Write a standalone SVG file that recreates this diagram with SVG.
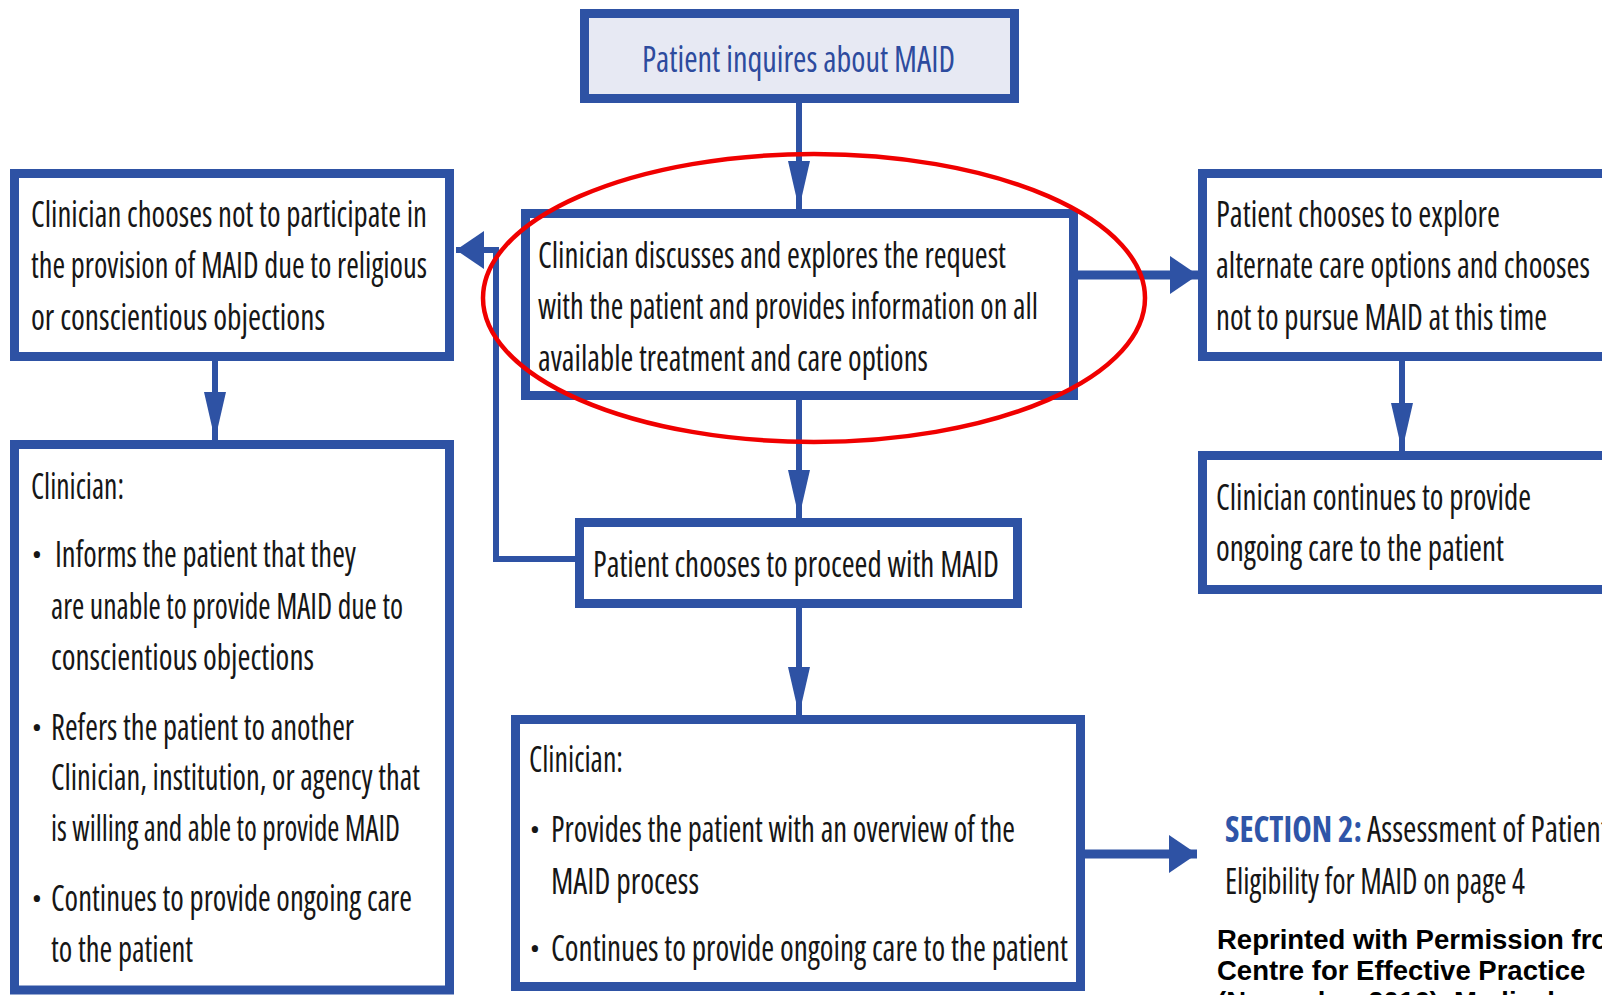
<svg xmlns="http://www.w3.org/2000/svg" width="1602" height="995" viewBox="0 0 1602 995">
<style>
.box{fill:#ffffff;stroke:#2e52a4;stroke-width:9}
.topbox{fill:#e7e9f3;stroke:#2e52a4;stroke-width:9}
.t{font-family:"Open Sans","Liberation Sans",sans-serif;font-size:36px;font-stretch:75%;font-weight:500;fill:#161616}
.tb{font-family:"Open Sans","Liberation Sans",sans-serif;font-size:37px;font-stretch:75%;font-weight:500;fill:#2d4b9e}
.sec{font-family:"Open Sans","Liberation Sans",sans-serif;font-size:36px;font-stretch:75%;font-weight:bold;fill:#2f55a8}
.bul{font-family:"Open Sans","Liberation Sans",sans-serif;font-size:30px;fill:#161616;text-anchor:middle}
.ref{font-family:"Liberation Sans",Arial,sans-serif;font-size:27.5px;font-weight:bold;fill:#000}
.cv{fill:none;stroke:#2e52a4;stroke-width:6}
.ch{fill:none;stroke:#2e52a4;stroke-width:9}
</style>
<defs>
<marker id="tall" markerUnits="userSpaceOnUse" markerWidth="50" markerHeight="24" viewBox="0 0 50 24" refX="48" refY="12" orient="auto">
<path d="M0,1 L48,12 L0,23 z" fill="#2e52a4"/>
</marker>
<marker id="short" markerUnits="userSpaceOnUse" markerWidth="30" markerHeight="40" viewBox="0 0 30 40" refX="28" refY="20" orient="auto">
<path d="M0,1 L28,20 L0,39 z" fill="#2e52a4"/>
</marker>
</defs>
<rect width="1602" height="995" fill="#ffffff"/>

<g id="connectors">
<line class="cv" x1="799" y1="103" x2="799" y2="209" marker-end="url(#tall)"/>
<line class="cv" x1="799" y1="400" x2="799" y2="518" marker-end="url(#tall)"/>
<line class="cv" x1="799" y1="608" x2="799" y2="715" marker-end="url(#tall)"/>
<line class="cv" x1="215" y1="361" x2="215" y2="440" marker-end="url(#tall)"/>
<line class="cv" x1="1402" y1="361" x2="1402" y2="451" marker-end="url(#tall)"/>
<line class="ch" x1="1078" y1="275" x2="1198" y2="275" marker-end="url(#short)"/>
<line class="ch" x1="1085" y1="854" x2="1197" y2="854" marker-end="url(#short)"/>
<path class="cv" d="M575,559 H496 V250 H456" stroke-width="7" marker-end="url(#short)"/>
</g>

<g id="node-inquire">
<rect class="topbox" x="584.5" y="13.5" width="430" height="85"/>
<text class="tb" x="642" y="72" textLength="313" lengthAdjust="spacingAndGlyphs">Patient inquires about MAID</text>
</g>

<g id="node-discuss">
<rect class="box" x="525.5" y="213.5" width="548" height="182"/>
<text class="t" x="538" y="268" textLength="468" lengthAdjust="spacingAndGlyphs">Clinician discusses and explores the request</text>
<text class="t" x="538" y="319" textLength="500" lengthAdjust="spacingAndGlyphs">with the patient and provides information on all</text>
<text class="t" x="538" y="371" textLength="390" lengthAdjust="spacingAndGlyphs">available treatment and care options</text>
</g>

<g id="node-objection">
<rect class="box" x="14.5" y="173.5" width="435" height="183"/>
<text class="t" x="31" y="227" textLength="396" lengthAdjust="spacingAndGlyphs">Clinician chooses not to participate in</text>
<text class="t" x="31" y="278" textLength="396" lengthAdjust="spacingAndGlyphs">the provision of MAID due to religious</text>
<text class="t" x="31" y="330" textLength="294" lengthAdjust="spacingAndGlyphs">or conscientious objections</text>
</g>

<g id="node-refer">
<rect class="box" x="14.5" y="444.5" width="435" height="545.5"/>
<text class="t" x="31" y="499" textLength="93" lengthAdjust="spacingAndGlyphs">Clinician:</text>
<text class="bul" x="37" y="565">•</text>
<text class="t" x="55" y="567" textLength="301" lengthAdjust="spacingAndGlyphs">Informs the patient that they</text>
<text class="t" x="51" y="619" textLength="352" lengthAdjust="spacingAndGlyphs">are unable to provide MAID due to</text>
<text class="t" x="51" y="670" textLength="263" lengthAdjust="spacingAndGlyphs">conscientious objections</text>
<text class="bul" x="37" y="738">•</text>
<text class="t" x="51" y="740" textLength="303" lengthAdjust="spacingAndGlyphs">Refers the patient to another</text>
<text class="t" x="51" y="790" textLength="369" lengthAdjust="spacingAndGlyphs">Clinician, institution, or agency that</text>
<text class="t" x="51" y="841" textLength="349" lengthAdjust="spacingAndGlyphs">is willing and able to provide MAID</text>
<text class="bul" x="37" y="909">•</text>
<text class="t" x="51" y="911" textLength="361" lengthAdjust="spacingAndGlyphs">Continues to provide ongoing care</text>
<text class="t" x="51" y="962" textLength="142" lengthAdjust="spacingAndGlyphs">to the patient</text>
</g>

<g id="node-explore">
<rect class="box" x="1202.5" y="173.5" width="450" height="183"/>
<text class="t" x="1216" y="227" textLength="284" lengthAdjust="spacingAndGlyphs">Patient chooses to explore</text>
<text class="t" x="1216" y="278" textLength="374" lengthAdjust="spacingAndGlyphs">alternate care options and chooses</text>
<text class="t" x="1216" y="330" textLength="331" lengthAdjust="spacingAndGlyphs">not to pursue MAID at this time</text>
</g>

<g id="node-ongoing">
<rect class="box" x="1202.5" y="455.5" width="450" height="134"/>
<text class="t" x="1216" y="510" textLength="315" lengthAdjust="spacingAndGlyphs">Clinician continues to provide</text>
<text class="t" x="1216" y="561" textLength="288" lengthAdjust="spacingAndGlyphs">ongoing care to the patient</text>
</g>

<g id="node-proceed">
<rect class="box" x="579.5" y="522.5" width="438" height="81"/>
<text class="t" x="593" y="577" textLength="406" lengthAdjust="spacingAndGlyphs">Patient chooses to proceed with MAID</text>
</g>

<g id="node-overview">
<rect class="box" x="515.5" y="719.5" width="565" height="267"/>
<text class="t" x="529" y="772" textLength="94" lengthAdjust="spacingAndGlyphs">Clinician:</text>
<text class="bul" x="535" y="840">•</text>
<text class="t" x="551" y="842" textLength="464" lengthAdjust="spacingAndGlyphs">Provides the patient with an overview of the</text>
<text class="t" x="551" y="894" textLength="148" lengthAdjust="spacingAndGlyphs">MAID process</text>
<text class="bul" x="535" y="959">•</text>
<text class="t" x="551" y="961" textLength="517" lengthAdjust="spacingAndGlyphs">Continues to provide ongoing care to the patient</text>
</g>

<g id="node-section2">
<text class="sec" x="1225" y="842" textLength="137" lengthAdjust="spacingAndGlyphs">SECTION 2:</text>
<text class="t" x="1367" y="842" textLength="242" lengthAdjust="spacingAndGlyphs">Assessment of Patient</text>
<text class="t" x="1225" y="894" textLength="300" lengthAdjust="spacingAndGlyphs">Eligibility for MAID on page 4</text>
</g>

<g id="reprint-note">
<text class="ref" x="1217" y="949">Reprinted with Permission from</text>
<text class="ref" x="1217" y="980">Centre for Effective Practice</text>
<text class="ref" x="1217" y="1011">(November 2016). Medical</text>
</g>

<ellipse cx="814" cy="298" rx="331" ry="144" fill="none" stroke="#f00000" stroke-width="4.5"/>
</svg>
